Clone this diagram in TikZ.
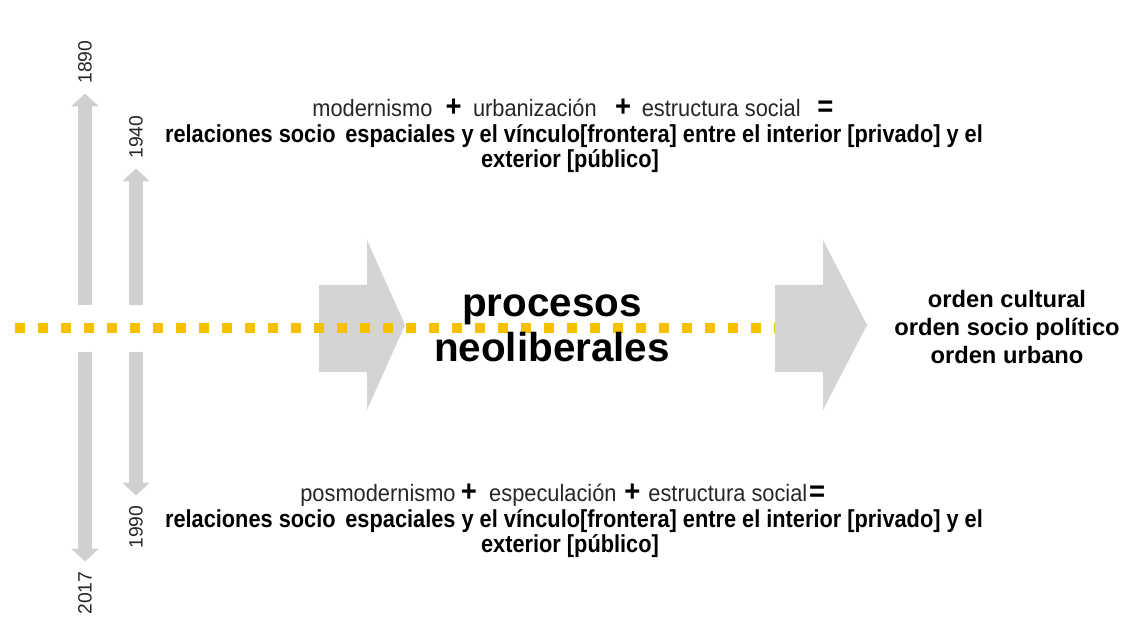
\documentclass[tikz,border=0pt]{standalone}
\usepackage{fontspec}
\setmainfont{Liberation Sans}
\newfontfamily\narrowfont[FakeStretch=0.92]{Liberation Sans}
\newfontfamily\narrowbold[FakeStretch=0.885]{Liberation Sans Bold}
\usetikzlibrary{positioning,arrows.meta}
\definecolor{dashyellow}{RGB}{245,192,0}
\definecolor{arrowgray}{RGB}{208,208,208}
\definecolor{bigarrowgray}{RGB}{212,212,212}
\newcommand{\op}[3]{\hspace{#1}\smash{{\color{black}\bfseries\fontsize{17}{17}\selectfont #2}}\hspace{#3}}
\tikzset{year/.style={rotate=90,font=\fontsize{11}{13}\selectfont,inner sep=0pt,outer xsep=0.2cm,text=black!85},
    yeararrow/.style={-{Triangle[width=0.54cm,length=0.26cm]},arrowgray,line width=0.28cm},
    sumline/.style={font=\narrowfont\fontsize{13.5}{14}\selectfont,anchor=base west,inner sep=0pt,text=black!85},
    boldline/.style={font=\narrowbold\fontsize{14}{14}\selectfont,anchor=base,inner sep=0pt},
    bigarrow/.style={fill=bigarrowgray},
    dots/.style={dashyellow,line width=0.2cm,dash pattern=on 0.2cm off 0.26cm}}

\begin{document}
\begin{tikzpicture}[x=0.02cm,y=-0.02cm]
    \useasboundingbox (0,0) rectangle (1126,621);
    \node[year] (y1890) at (85,62) {1890};
    \node[year] (y2017) at (85,593) {2017};
    \node[year] (y1940) at (136,137) {1940};
    \node[year] (y1990) at (136,527) {1990};
    \coordinate (a1up) at (85,305);\coordinate (a1dn) at (85,352);
    \coordinate (a2up) at (136,305);\coordinate (a2dn) at (136,352);
    \draw[yeararrow](a1up)--(y1890.west);\draw[yeararrow](a1dn)--(y2017.east);
    \draw[yeararrow](a2up)--(y1940.west);\draw[yeararrow](a2dn)--(y1990.east);
    \fill[bigarrow](319,285)--(367,285)--(367,240)--(405,325)--(367,410)--(367,372)--(319,372)--cycle;
    \coordinate (lineL) at (15,328);\coordinate (lineR) at (780,328);
    \draw[dots](lineL)--(lineR);
    \fill[bigarrow](775,285)--(823,285)--(823,240)--(867,325)--(823,410)--(823,372)--(775,372)--cycle;
    \node[font=\bfseries\fontsize{23}{25.6}\selectfont,align=center] (proc) at (552,328) {procesos\\neoliberales};
    \node[font=\bfseries\fontsize{13.5}{16.2}\selectfont,align=center] (orden) at (1007,327)
        {orden cultural\\orden socio político\\orden urbano};
    \node[sumline] (top1) at (312,117) {modernismo\op{7.5pt}{+}{6.5pt}urbanización\op{10.5pt}{+}{6pt}estructura social\op{9.5pt}{=}{0pt}};
    \node[boldline] (top2) at (574,143) {relaciones socio\hspace{0.15em} espaciales y el vínculo[frontera] entre el interior [privado] y el};
    \node[boldline] (top3) at (570,168) {exterior [público]};
    \node[sumline] (bot1) at (300,501) {posmodernismo\op{3pt}{+}{7pt}especulación\op{4.5pt}{+}{4.5pt}estructura social\op{1pt}{=}{0pt}};
    \node[boldline] (bot2) at (574,527) {relaciones socio\hspace{0.15em} espaciales y el vínculo[frontera] entre el interior [privado] y el};
    \node[boldline] (bot3) at (570,552) {exterior [público]};
\end{tikzpicture}
\end{document}
